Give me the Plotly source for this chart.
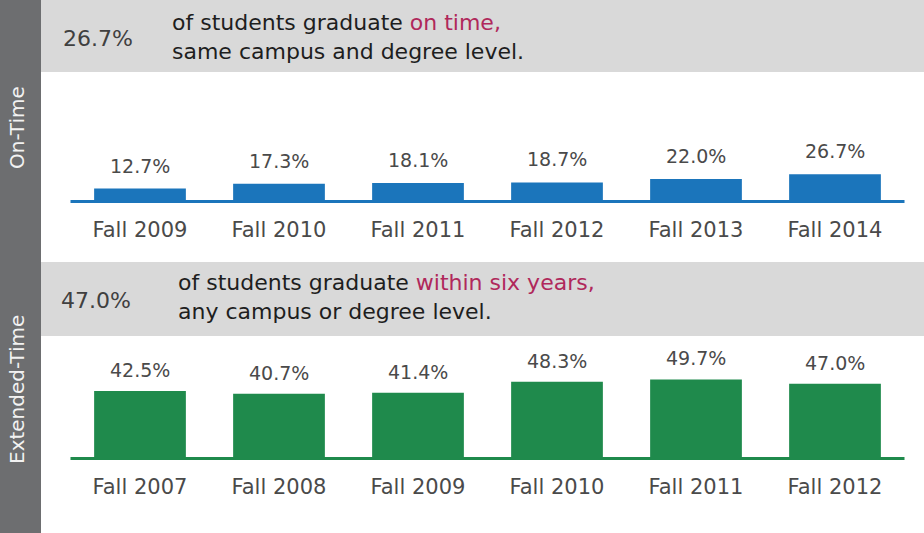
import plotly.graph_objects as go

W, H = 924, 533

# données
on_time_terms = ["Fall 2009", "Fall 2010", "Fall 2011", "Fall 2012", "Fall 2013", "Fall 2014"]
on_time_rates = [12.7, 17.3, 18.1, 18.7, 22.0, 26.7]
extended_terms = ["Fall 2007", "Fall 2008", "Fall 2009", "Fall 2010", "Fall 2011", "Fall 2012"]
extended_rates = [42.5, 40.7, 41.4, 48.3, 49.7, 47.0]

BLUE = "#1b75bb"
GREEN = "#1f8a4c"
CRIMSON = "#b0285b"
STRIP = "#6d6e70"
BAND = "#d9d9d9"
TXT = "#4a4a4a"
FONT = "DejaVu Sans"


def py(px):  # pixel (depuis le haut) -> coordonnée papier
	return 1 - px / H


def px_x(px):
	return px / W


fig = go.Figure()

fig.add_trace(go.Bar(x=on_time_terms, y=on_time_rates, marker=dict(color=BLUE, line=dict(width=0)),
					 width=0.66, xaxis="x", yaxis="y", hoverinfo="skip"))
fig.add_trace(go.Bar(x=extended_terms, y=extended_rates, marker=dict(color=GREEN, line=dict(width=0)),
					 width=0.66, xaxis="x2", yaxis="y2", hoverinfo="skip"))

annotations = []

# étiquettes de valeurs
for terms, rates, xa, ya, shift in [(on_time_terms, on_time_rates, "x", "y", 10),
									(extended_terms, extended_rates, "x2", "y2", 8)]:
	for t, v in zip(terms, rates):
		annotations.append(dict(x=t, y=v, xref=xa, yref=ya, text=f"{v:.1f}%", showarrow=False,
								yanchor="bottom", yshift=shift, font=dict(family=FONT, size=19, color=TXT)))

# fonds
shapes = [
	dict(type="rect", xref="paper", yref="paper", x0=0, x1=px_x(41), y0=0, y1=1,
		 fillcolor=STRIP, line=dict(width=0), layer="below"),
	dict(type="rect", xref="paper", yref="paper", x0=px_x(41), x1=1, y0=py(72), y1=1,
		 fillcolor=BAND, line=dict(width=0), layer="below"),
	dict(type="rect", xref="paper", yref="paper", x0=px_x(41), x1=1, y0=py(336), y1=py(262),
		 fillcolor=BAND, line=dict(width=0), layer="below"),
	# lignes de base
	dict(type="line", xref="x", yref="y", x0=-0.5, x1=len(on_time_terms) - 0.5, y0=0, y1=0,
		 line=dict(color=BLUE, width=3), layer="above"),
	dict(type="line", xref="x2", yref="y2", x0=-0.5, x1=len(extended_terms) - 0.5, y0=0, y1=0,
		 line=dict(color=GREEN, width=3), layer="above"),
]

for x, y, text in [(17, 128, "On-Time"), (17, 390, "Extended-Time")]:
	annotations.append(dict(x=px_x(x), y=py(y), xref="paper", yref="paper", text=text, textangle=-90,
							showarrow=False, xanchor="center", yanchor="middle",
							font=dict(family=FONT, size=20, color="#f2f2f2")))

headers = [
	(61, 39, "26.7%", 170, 37, f"of students graduate <span style='color:{CRIMSON}'>on time,</span><br>same campus and degree level."),
	(59, 300, "47.0%", 176, 297, f"of students graduate <span style='color:{CRIMSON}'>within six years,</span><br>any campus or degree level."),
]
for kx, ky, key, tx, ty, text in headers:
	annotations.append(dict(x=px_x(kx), y=py(ky), xref="paper", yref="paper", text=key, showarrow=False,
							xanchor="left", yanchor="middle", font=dict(family=FONT, size=22, color="#404040")))
	annotations.append(dict(x=px_x(tx), y=py(ty), xref="paper", yref="paper", text=text, showarrow=False,
							xanchor="left", yanchor="middle", align="left",
							font=dict(family=FONT, size=22, color="#1e1e1e")))

x_range = [-140 / 139, (W - 140) / 139]
axis_x = dict(range=x_range, domain=[0, 1], showgrid=False, zeroline=False, showline=False, ticks="",
			  ticklabelstandoff=11, tickfont=dict(family=FONT, size=21, color=TXT), fixedrange=True)
axis_y = dict(showgrid=False, zeroline=False, showline=False, showticklabels=False, fixedrange=True)

fig.update_layout(
	width=W, height=H, margin=dict(l=0, r=0, t=0, b=0),
	paper_bgcolor="white", plot_bgcolor="rgba(0,0,0,0)", showlegend=False,
	xaxis=dict(axis_x, anchor="y"),
	yaxis=dict(axis_y, domain=[py(204), py(75)], range=[-2.5 / 1.02, (201.5 - 75) / 1.02], anchor="x"),
	xaxis2=dict(axis_x, anchor="y2"),
	yaxis2=dict(axis_y, domain=[py(461), py(340)], range=[-2.5 / 1.59, (458.5 - 340) / 1.59], anchor="x2"),
	shapes=shapes, annotations=annotations,
)

# supprime la marge par défaut du navigateur
fig.write_html("out.html", config={"displayModeBar": False},
			   post_script="document.body.style.margin='0';")
